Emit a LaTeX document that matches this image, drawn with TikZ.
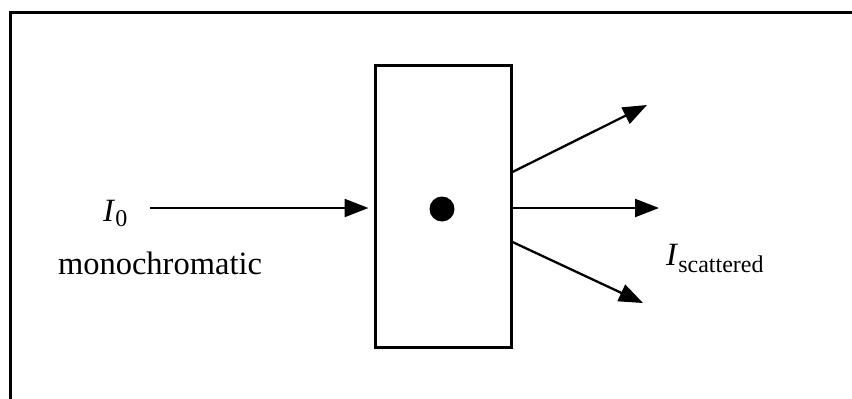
\documentclass[tikz,border=0pt]{standalone}
\usepackage{fontspec}
\setmainfont{Liberation Serif}
\usetikzlibrary{arrows.meta}
\begin{document}
\begin{tikzpicture}[x=1pt,y=-1pt,
  frameline/.style={line width=3pt},
  cell/.style={draw,line width=3pt,minimum width=136pt,minimum height=282pt,inner sep=0pt},
  ray/.style={line width=2.3pt,-{Triangle[length=24pt,width=18pt]}},
  lbl/.style={inner sep=0pt,font=\fontsize{32.5}{38}\selectfont}]
  \useasboundingbox (0,0) rectangle (852,399);
  % partial outer frame (top and left edges)
  \draw[frameline] (10,399) -- (10,12) -- (852,12);
  % sample cell with the scattering particle
  \node[cell] (box) at (443,206) {};
  \node[circle,fill=black,minimum size=25pt,inner sep=0pt] (dot) at (442,209) {};
  % incident beam
  \coordinate (src) at (150,208);
  \draw[ray,shorten >=5pt] (src) -- (box.west |- src);
  % scattered beams
  \coordinate (t1) at (647,105);
  \coordinate (t2) at (659,208);
  \coordinate (t3) at (643,303);
  \draw[ray] (box.east |- 0,172) -- (t1);
  \draw[ray] (box.east |- t2) -- (t2);
  \draw[ray] (box.east |- 0,242) -- (t3);
  % labels
  \node[lbl,anchor=base west] (i0) at (103,221) {\textit{I}\raisebox{-5pt}{\fontsize{24}{28}\selectfont 0}};
  \node[lbl,anchor=base] (mono) at (160,274) {monochromatic};
  \node[lbl,anchor=base west] (isc) at (666,265) {\textit{I}\raisebox{-7pt}{\fontsize{24}{28}\selectfont scattered}};
\end{tikzpicture}
\end{document}
